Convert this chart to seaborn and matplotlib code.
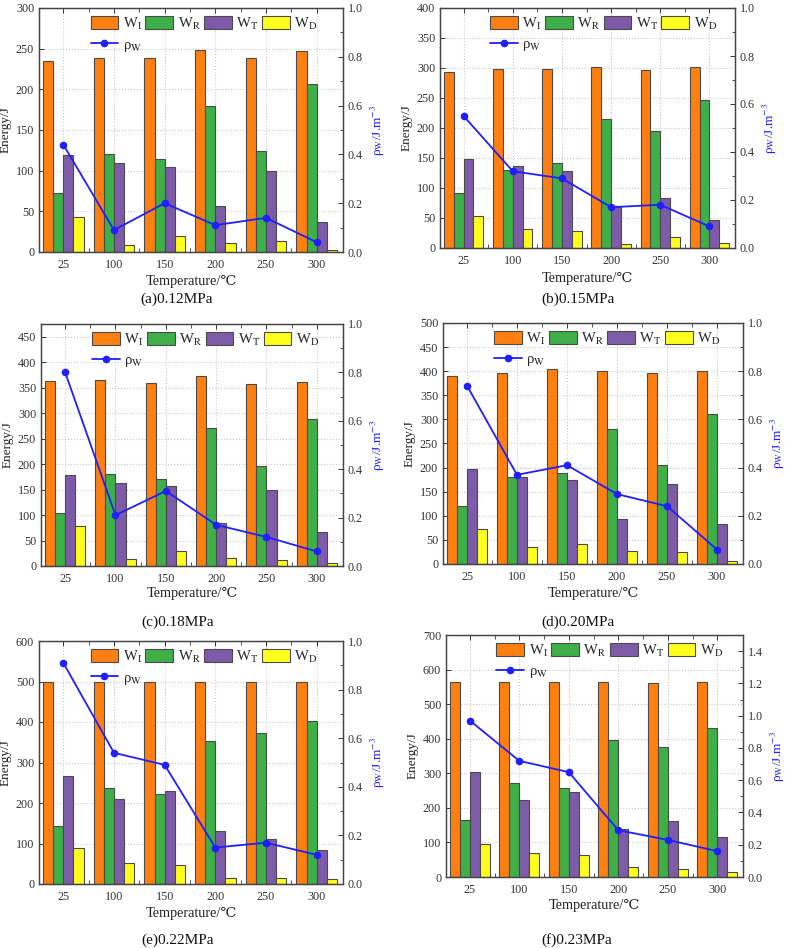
import numpy as np
import pandas as pd
import matplotlib
matplotlib.use("Agg")
import matplotlib.pyplot as plt
import seaborn as sns
from matplotlib.patches import Patch
from matplotlib.lines import Line2D
from matplotlib.ticker import MultipleLocator, FixedLocator, FormatStrFormatter

sns.set_style("white")
plt.rcParams['font.family'] = ['Liberation Serif', 'DejaVu Serif']
plt.rcParams['mathtext.fontset'] = 'stix'

temps = ['25', '100', '150', '200', '250', '300']
series = ['WI', 'WR', 'WT', 'WD']
legend_labels = ['W$_\\mathrm{I}$', 'W$_\\mathrm{R}$', 'W$_\\mathrm{T}$', 'W$_\\mathrm{D}$']
rho_label = '\u03c1$_\\mathrm{W}$'

# (a) 0.12MPa
a_WI = [235, 239, 239, 248, 238, 247]
a_WR = [73, 121, 114, 180, 124, 206]
a_WT = [119, 109, 105, 56, 100, 37]
a_WD = [43, 9, 20, 11, 14, 3]
a_rho = [0.44, 0.09, 0.20, 0.11, 0.14, 0.04]
# (b) 0.15MPa
b_WI = [293, 298, 298, 301, 297, 301]
b_WR = [91, 130, 142, 215, 195, 247]
b_WT = [148, 136, 128, 70, 84, 47]
b_WD = [53, 32, 28, 7, 18, 8]
b_rho = [0.55, 0.32, 0.29, 0.17, 0.18, 0.09]
# (c) 0.18MPa
c_WI = [363, 365, 359, 372, 357, 361]
c_WR = [105, 181, 171, 271, 196, 289]
c_WT = [179, 163, 158, 85, 149, 66]
c_WD = [79, 14, 30, 16, 11, 6]
c_rho = [0.80, 0.21, 0.31, 0.17, 0.12, 0.06]
# (d) 0.20MPa
d_WI = [391, 397, 405, 401, 396, 400]
d_WR = [120, 180, 189, 281, 206, 312]
d_WT = [197, 180, 175, 93, 166, 82]
d_WD = [72, 35, 41, 28, 24, 6]
d_rho = [0.74, 0.37, 0.41, 0.29, 0.24, 0.06]
# (e) 0.22MPa
e_WI = [500, 500, 500, 500, 500, 500]
e_WR = [142, 237, 223, 354, 373, 403]
e_WT = [267, 210, 229, 131, 110, 85]
e_WD = [89, 53, 47, 15, 16, 12]
e_rho = [0.91, 0.54, 0.49, 0.15, 0.17, 0.12]
# (f) 0.23MPa
f_WI = [564, 565, 565, 565, 562, 563]
f_WR = [164, 271, 256, 396, 377, 431]
f_WT = [305, 224, 245, 140, 162, 115]
f_WD = [95, 70, 65, 28, 22, 15]
f_rho = [0.97, 0.72, 0.65, 0.29, 0.23, 0.16]

captions = ['(a)0.12MPa', '(b)0.15MPa', '(c)0.18MPa', '(d)0.20MPa', '(e)0.22MPa', '(f)0.23MPa']

panels = [
    (a_WI, a_WR, a_WT, a_WD, a_rho),
    (b_WI, b_WR, b_WT, b_WD, b_rho),
    (c_WI, c_WR, c_WT, c_WD, c_rho),
    (d_WI, d_WR, d_WT, d_WD, d_rho),
    (e_WI, e_WR, e_WT, e_WD, e_rho),
    (f_WI, f_WR, f_WT, f_WD, f_rho),
]
ylims = [(0, 300), (0, 400), (0, 475), (0, 500), (0, 600), (0, 700)]
ysteps = [50, 50, 50, 50, 100, 100]
rlims = [(0, 1.0)] * 5 + [(0, 1.5)]

colors = ['#FF8010', '#3FAF48', '#7E5BA8', '#FFFF1E']
edge = '#4a4a4a'
blue = '#1F1FFF'

W, H = 785, 948
boxes_px = [
    (39, 8, 343, 252),
    (440, 8, 735, 248),
    (41, 324, 343, 566),
    (443, 323, 743, 564),
    (39, 641, 343, 884),
    (446, 635, 743, 877),
]
xlabel_y = [282, 278, 594, 593, 914, 906]
caption_y = [299, 299, 622, 622, 940, 940]
caption_x = [177, 578, 178, 578, 178, 577]

fig = plt.figure(figsize=(W / 100, H / 100), dpi=100)

for i, (WI, WR, WT, WD, rho) in enumerate(panels):
    l, t, r, b = boxes_px[i]
    ax = fig.add_axes([l / W, 1 - b / H, (r - l) / W, (b - t) / H])
    df = pd.DataFrame({
        'T': temps * 4,
        'E': list(WI) + list(WR) + list(WT) + list(WD),
        'S': [s for s in series for _ in temps],
    })
    sns.barplot(data=df, x='T', y='E', hue='S', order=temps, hue_order=series,
                palette=colors, saturation=1, edgecolor=edge, linewidth=0.8,
                width=0.8, legend=False, ax=ax, zorder=2)
    ax.set_ylim(*ylims[i])
    ax.yaxis.set_major_locator(MultipleLocator(ysteps[i]))
    ax.set_xlim(-0.48, 5.52)
    ax.xaxis.set_minor_locator(FixedLocator(np.arange(0.5, 5.0, 1.0)))
    ax.set_axisbelow(True)
    ax.grid(True, axis='y', which='major', linestyle=':', color='#c8c8c8', linewidth=0.8)
    ax.grid(True, axis='x', which='major', linestyle=':', color='#c8c8c8', linewidth=0.8)
    ax.set_xlabel('')
    ax.set_ylabel('Energy/J', fontsize=9.5, color='#222222', labelpad=3)
    ax.tick_params(axis='both', which='both', direction='in', labelsize=8.7,
                   colors='#333333', top=True, bottom=True, left=True, right=False)
    ax.tick_params(axis='both', which='major', length=3.5, width=0.7)
    ax.tick_params(axis='both', which='minor', length=3, width=0.6)
    ax.tick_params(axis='x', which='major', pad=5)
    for sp in ax.spines.values():
        sp.set_color('#444444')
        sp.set_linewidth(0.9)

    ax2 = ax.twinx()
    sns.pointplot(x=temps, y=rho, ax=ax2, color=blue, markers='o', linestyles='-',
                  markersize=4.5, linewidth=1.3, errorbar=None)
    ax2.set_xlim(-0.48, 5.52)
    ax2.set_ylim(*rlims[i])
    ax2.yaxis.set_major_locator(MultipleLocator(0.2))
    ax2.yaxis.set_minor_locator(MultipleLocator(0.1))
    ax2.tick_params(axis='y', which='both', direction='in', labelsize=8.7, colors='#333333')
    ax2.tick_params(axis='y', which='major', length=3.5, width=0.7)
    ax2.tick_params(axis='y', which='minor', length=2.5, width=0.6)
    ax2.yaxis.set_major_formatter(FormatStrFormatter('%.1f'))
    ax2.set_ylabel(rho_label + '/J.m$^{-3}$', color=blue, fontsize=9.5, labelpad=4)
    ax2.grid(False)
    for sp in ax2.spines.values():
        sp.set_color('#444444')
        sp.set_linewidth(0.9)

    handles = [Patch(facecolor=colors[0], edgecolor=edge, linewidth=0.8),
               Line2D([], [], color=blue, marker='o', markersize=4.5, linewidth=1.3),
               Patch(facecolor=colors[1], edgecolor=edge, linewidth=0.8),
               Patch(facecolor=colors[2], edgecolor=edge, linewidth=0.8),
               Patch(facecolor=colors[3], edgecolor=edge, linewidth=0.8)]
    labels = [legend_labels[0], rho_label, legend_labels[1], legend_labels[2], legend_labels[3]]
    ax2.legend(handles, labels, ncol=4, loc='upper left', bbox_to_anchor=(0.16, 0.98),
               frameon=False, fontsize=10.5, handlelength=1.9, handleheight=1.0,
               handletextpad=0.3, columnspacing=0.25, labelspacing=0.35, borderpad=0.2,
               borderaxespad=0.0)

    cx = (l + r) / 2
    fig.text(cx / W, 1 - xlabel_y[i] / H, 'Temperature/\u2103', ha='center', va='center',
             fontsize=10.3, color='#222222')
    fig.text(caption_x[i] / W, 1 - caption_y[i] / H, captions[i], ha='center', va='center',
             fontsize=11, color='#111111')

fig.savefig('out.png', dpi=100, facecolor='white')
